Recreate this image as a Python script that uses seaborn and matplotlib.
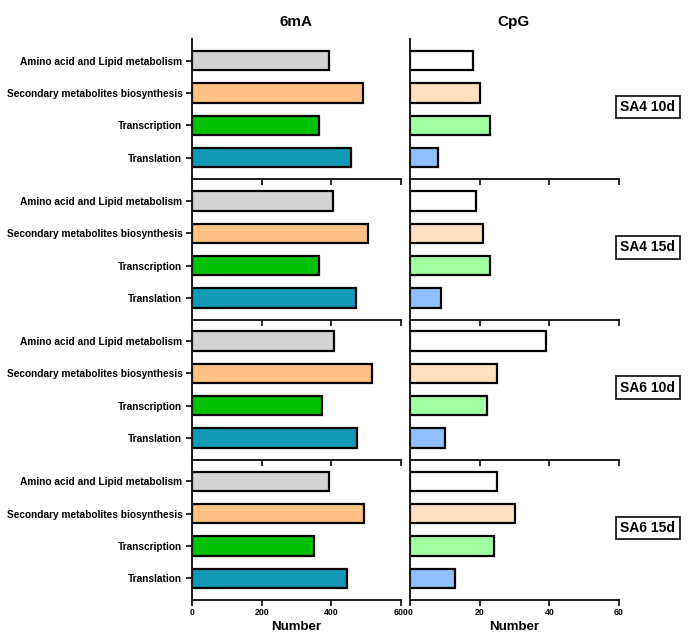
import matplotlib
matplotlib.use("Agg")
import matplotlib.pyplot as plt
import seaborn as sns
import pandas as pd

sns.set_theme(style="white")
plt.rcParams['font.family'] = ['Liberation Sans', 'DejaVu Sans']
plt.rcParams['font.weight'] = 'bold'
plt.rcParams['text.color'] = 'black'
plt.rcParams['axes.labelcolor'] = 'black'

categories = ["Amino acid and Lipid metabolism", "Secondary metabolites biosynthesis",
              "Transcription", "Translation"]
groups = ["SA4 10d", "SA4 15d", "SA6 10d", "SA6 15d"]
mA6_sa4_10 = [393, 492, 364, 457]
mA6_sa4_15 = [406, 506, 366, 470]
mA6_sa6_10 = [407, 516, 373, 474]
mA6_sa6_15 = [392, 494, 351, 446]
cpg_sa4_10 = [18, 20, 23, 8]
cpg_sa4_15 = [19, 21, 23, 9]
cpg_sa6_10 = [39, 25, 22, 10]
cpg_sa6_15 = [25, 30, 24, 13]
mA6_vals = [mA6_sa4_10, mA6_sa4_15, mA6_sa6_10, mA6_sa6_15]
cpg_vals = [cpg_sa4_10, cpg_sa4_15, cpg_sa6_10, cpg_sa6_15]
mA6_colors = ["#D3D3D3", "#FFC285", "#00C000", "#1199B5"]
cpg_colors = ["#FFFFFF", "#FFE1C2", "#A2FFA2", "#8FC0FF"]
mA6_ticks = [0, 200, 400, 600]
cpg_ticks = [0, 20, 40, 60]

fig = plt.figure(figsize=(7, 6.35), dpi=100)
W, H = 700, 635
top_px, bot_px = 39, 600
row_h = (bot_px - top_px) / 4

def ax_at(x0, x1, y0, y1):
    return fig.add_axes([x0 / W, 1 - y1 / H, (x1 - x0) / W, (y1 - y0) / H])

for i, g in enumerate(groups):
    y0 = top_px + i * row_h
    y1 = y0 + row_h
    for j, (vals, cols, ticks, xl, xr) in enumerate([
            (mA6_vals[i], mA6_colors, mA6_ticks, 192, 401),
            (cpg_vals[i], cpg_colors, cpg_ticks, 410, 619)]):
        ax = ax_at(xl, xr, y0, y1)
        ax.patch.set_visible(False)
        df = pd.DataFrame({"category": categories, "value": vals})
        sns.barplot(data=df, x="value", y="category", hue="category",
                    palette=dict(zip(categories, cols)), legend=False,
                    saturation=1, width=0.6, edgecolor="black",
                    linewidth=1.6, ax=ax, orient="h")
        ax.set_xlim(ticks[0], ticks[-1])
        ax.set_ylim(3.67, -0.67)
        ax.set_xticks(ticks)
        ax.set_ylabel("")
        ax.set_xlabel("")
        for s in ["top", "right"]:
            ax.spines[s].set_visible(False)
        for s in ["left", "bottom"]:
            ax.spines[s].set_linewidth(1.4)
            ax.spines[s].set_color("#1a1a1a")
            ax.spines[s].set_zorder(5)
        ax.tick_params(axis="x", direction="out", length=4, width=1.3,
                       colors="#1a1a1a", labelsize=6.3, pad=2, bottom=True)
        if j == 0:
            ax.tick_params(axis="y", direction="out", length=4, width=1.3,
                           colors="#1a1a1a", labelsize=7.3, pad=3, left=True)
            for t in ax.get_yticklabels():
                t.set_fontweight("bold")
                t.set_color("black")
        else:
            ax.set_yticks([])
        if i < 3:
            ax.set_xticklabels([])
        else:
            ax.set_xticklabels([str(t) for t in ticks], fontweight="bold", color="black")
        xc = (xl + xr) / 2
        if i == 3:
            fig.text(xc / W, 1 - 627 / H, "Number", ha="center", va="center",
                     fontsize=9.5, fontweight="bold")
        if i == 0:
            fig.text((xc - 1) / W, 1 - 22 / H, "6mA" if j == 0 else "CpG",
                     ha="center", va="center", fontsize=11, fontweight="bold")
    fig.text(648 / W, 1 - (y0 + row_h / 2 - 2) / H, g, ha="center", va="center",
             fontsize=10, fontweight="bold",
             bbox=dict(boxstyle="square,pad=0.3", facecolor="white",
                       edgecolor="#1a1a1a", linewidth=1.3))

fig.savefig("out.png", dpi=100)
